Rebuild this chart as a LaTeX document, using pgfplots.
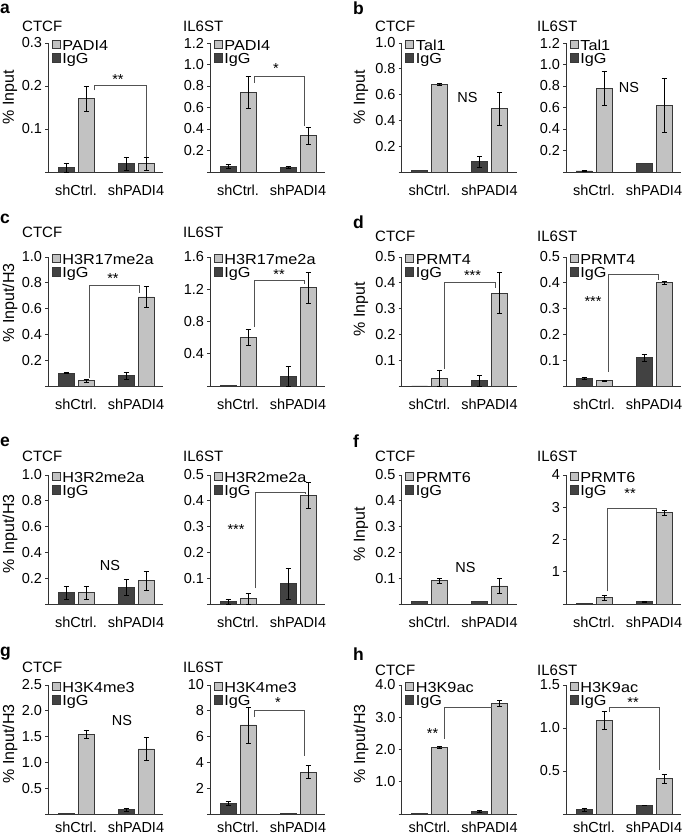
\documentclass[border=0pt]{standalone}
\usepackage{pgfplots}
\pgfplotsset{compat=1.18}
\usepackage{fontspec}
\setmainfont{Liberation Sans}
\newfontfamily\legfont[FakeStretch=1.12]{Liberation Sans}
\definecolor{lightbar}{gray}{0.76}
\definecolor{darkbar}{gray}{0.26}
\definecolor{edgec}{gray}{0.22}
\definecolor{axc}{gray}{0.2}
\definecolor{brc}{gray}{0.32}
\newcommand\fs{\fontsize{14.5}{16}\selectfont}
\newcommand\ft{\fontsize{15}{16}\selectfont}
\newcommand\fleg{\legfont\fontsize{14.5}{15}\selectfont}
\newcommand\fl{\fontsize{16}{17}\selectfont}
\newcommand\fb{\fontsize{17.5}{18}\selectfont\bfseries}
\tikzset{br/.style={brc, line width=1pt}, star/.style={font=\fs, inner sep=0pt, yshift=-3pt}}
\pgfplotsset{
  sq legend/.style={legend image code/.code={\draw[##1,draw=edgec,line width=0.7pt] (0pt,-2pt) rectangle (8pt,6.3pt);}},
  barbase/.style={ybar, bar width=16, bar shift=0pt, draw=edgec, line width=0.8pt, sq legend,
     error bars/.cd, y dir=both, y explicit,
     error bar style={line width=0.6pt, black},
     error mark options={rotate=90, mark size=2.5pt, line width=0.6pt, black}},
  lb/.style={fill=lightbar, barbase},
  db/.style={fill=darkbar, barbase},
  chip/.style={
    scale only axis, width=115pt, height=129pt,
    xmin=0, xmax=115, ymin=0,
    axis lines=left, axis line style={-, line width=0.8pt, axc},
    xtick={28,88}, xticklabels={shCtrl.,shPADI4},
    xtick style={draw=none},
    ytick style={line width=0.8pt, axc},
    tick align=outside, major tick length=3pt,
    tick label style={font=\fs},
    /pgf/number format/assume math mode=true,
    xticklabel style={inner sep=0pt, yshift=-9.5pt},
    yticklabel style={inner sep=0pt, xshift=-2.8pt},
    legend style={draw=none, fill=none, at={(0,1)}, anchor=north west, xshift=3.5pt, yshift=3.5pt,
      inner sep=0pt, font=\fleg, row sep=0pt, column sep=2pt,
      nodes={inner sep=0pt, text height=10.5pt, text depth=3pt}, cells={anchor=west}},
    clip=false,
  },
  lastrow/.style={xticklabel style={yshift=5pt}},
}
\begin{document}
\begin{tikzpicture}
\useasboundingbox (0pt,0pt) rectangle (685pt,834pt);
% ---------------- labels ----------------
\node[anchor=base west, inner sep=0, font=\fb] at (0pt,820pt) {a};
\node[anchor=base west, inner sep=0, font=\fb] at (353pt,819pt) {b};
\node[anchor=base west, inner sep=0, font=\fb] at (0pt,610pt) {c};
\node[anchor=base west, inner sep=0, font=\fb] at (353pt,605pt) {d};
\node[anchor=base west, inner sep=0, font=\fb] at (0pt,387pt) {e};
\node[anchor=base west, inner sep=0, font=\fb] at (353pt,386pt) {f};
\node[anchor=base west, inner sep=0, font=\fb] at (0pt,177pt) {g};
\node[anchor=base west, inner sep=0, font=\fb] at (353pt,173pt) {h};
% titles
\foreach \xx/\yy/\tt in {22/802/CTCF, 183/802/IL6ST, 375/802/CTCF, 537/802/IL6ST,
  22/596/CTCF, 183/596/IL6ST, 375/592/CTCF, 537/592/IL6ST,
  22/372/CTCF, 183/372/IL6ST, 375/372/CTCF, 537/372/IL6ST,
  22/161/CTCF, 183/161/IL6ST, 375/158/CTCF, 537/158/IL6ST}
  \node[anchor=base west, inner sep=0, font=\ft] at (\xx pt,\yy pt) {\tt};
% y labels
\node[rotate=90, inner sep=0, font=\fl] at (10pt,737pt) {\% Input};
\node[rotate=90, inner sep=0, font=\fl] at (361pt,737pt) {\% Input};
\node[rotate=90, inner sep=0, font=\fl] at (10pt,531pt) {\% Input/H3};
\node[rotate=90, inner sep=0, font=\fl] at (361pt,525pt) {\% Input};
\node[rotate=90, inner sep=0, font=\fl] at (10pt,300pt) {\% Input/H3};
\node[rotate=90, inner sep=0, font=\fl] at (361pt,300pt) {\% Input};
\node[rotate=90, inner sep=0, font=\fl] at (10pt,90pt) {\% Input/H3};
\node[rotate=90, inner sep=0, font=\fl] at (361pt,90pt) {\% Input/H3};

% ================= a =================
\begin{axis}[chip, at={(48pt,662pt)}, anchor=south west, ymax=0.3,
  ytick={0,0.1,0.2,0.3}, yticklabels={,0.1,0.2,0.3}]
\addplot[lb] coordinates {(38,0.17) +- (0,0.03) (98,0.02) +- (0,0.015)};
\addplot[db] coordinates {(18,0.01) +- (0,0.01) (78,0.02) +- (0,0.015)};
\legend{PADI4,IgG}
\draw[br] (axis cs:46,0.19) -- (axis cs:46,0.2) -- (axis cs:98,0.2) -- (axis cs:98,0.035);
\node[star] at (axis cs:70,0.222) {**};
\end{axis}
\begin{axis}[chip, at={(210pt,662pt)}, anchor=south west, ymax=1.2,
  ytick={0,0.2,0.4,0.6,0.8,1.0,1.2}, yticklabels={,0.2,0.4,0.6,0.8,1.0,1.2}]
\addplot[lb] coordinates {(38,0.74) +- (0,0.15) (98,0.34) +- (0,0.08)};
\addplot[db] coordinates {(18,0.05) +- (0,0.02) (78,0.04) +- (0,0.01)};
\legend{PADI4,IgG}
\draw[br] (axis cs:44,0.83) -- (axis cs:44,0.89) -- (axis cs:94,0.89) -- (axis cs:94,0.43);
\node[star] at (axis cs:66,0.99) {*};
\end{axis}
% ================= b =================
\begin{axis}[chip, at={(401.5pt,662pt)}, anchor=south west, ymax=1.0,
  ytick={0,0.2,0.4,0.6,0.8,1.0}, yticklabels={,0.2,0.4,0.6,0.8,1.0}]
\addplot[lb] coordinates {(38,0.68) +- (0,0.01) (98,0.49) +- (0,0.13)};
\addplot[db] coordinates {(18,0.01) (78,0.08) +- (0,0.04)};
\legend{Tal1,IgG}
\node[font=\fs] at (axis cs:66,0.58) {NS};
\end{axis}
\begin{axis}[chip, at={(566pt,662pt)}, anchor=south west, ymax=1.2,
  ytick={0,0.2,0.4,0.6,0.8,1.0,1.2}, yticklabels={,0.2,0.4,0.6,0.8,1.0,1.2}]
\addplot[lb] coordinates {(38,0.78) +- (0,0.16) (98,0.62) +- (0,0.25)};
\addplot[db] coordinates {(18,0.01) +- (0,0.005) (78,0.08)};
\legend{Tal1,IgG}
\node[font=\fs] at (axis cs:63,0.79) {NS};
\end{axis}
% ================= c =================
\begin{axis}[chip, at={(48pt,448pt)}, anchor=south west, ymax=1.0,
  ytick={0,0.2,0.4,0.6,0.8,1.0}, yticklabels={,0.2,0.4,0.6,0.8,1.0}]
\addplot[lb] coordinates {(38,0.04) +- (0,0.01) (98,0.69) +- (0,0.08)};
\addplot[db] coordinates {(18,0.10) +- (0,0.005) (78,0.08) +- (0,0.03)};
\legend{H3R17me2a,IgG}
\draw[br] (axis cs:41,0.06) -- (axis cs:41,0.776) -- (axis cs:91,0.776) -- (axis cs:91,0.72);
\node[star] at (axis cs:65,0.86) {**};
\end{axis}
\begin{axis}[chip, at={(210pt,448pt)}, anchor=south west, ymax=1.6,
  ytick={0,0.4,0.8,1.2,1.6}, yticklabels={,0.4,0.8,1.2,1.6}]
\addplot[lb] coordinates {(38,0.60) +- (0,0.10) (98,1.22) +- (0,0.19)};
\addplot[db] coordinates {(18,0.005) (78,0.12) +- (0,0.12)};
\legend{H3R17me2a,IgG}
\draw[br] (axis cs:44,0.73) -- (axis cs:44,1.31) -- (axis cs:94,1.31) -- (axis cs:94,1.26);
\node[star] at (axis cs:69,1.42) {**};
\end{axis}
% ================= d =================
\begin{axis}[chip, at={(401.5pt,448pt)}, anchor=south west, ymax=0.5,
  ytick={0,0.1,0.2,0.3,0.4,0.5}, yticklabels={,0.1,0.2,0.3,0.4,0.5}]
\addplot[lb] coordinates {(38,0.03) +- (0,0.03) (98,0.36) +- (0,0.08)};
\addplot[db] coordinates {(18,0) (78,0.02) +- (0,0.02)};
\legend{PRMT4,IgG}
\draw[br] (axis cs:43,0.065) -- (axis cs:43,0.40) -- (axis cs:94,0.40) -- (axis cs:94,0.378);
\node[star] at (axis cs:71,0.44) {***};
\end{axis}
\begin{axis}[chip, at={(566pt,448pt)}, anchor=south west, ymax=0.5,
  ytick={0,0.1,0.2,0.3,0.4,0.5}, yticklabels={,0.1,0.2,0.3,0.4,0.5}]
\addplot[lb] coordinates {(38,0.02) +- (0,0.003) (98,0.40) +- (0,0.005)};
\addplot[db] coordinates {(18,0.03) +- (0,0.005) (78,0.11) +- (0,0.013)};
\legend{PRMT4,IgG}
\draw[br] (axis cs:42,0.055) -- (axis cs:42,0.433) -- (axis cs:92,0.433) -- (axis cs:92,0.41);
\node[star] at (axis cs:27,0.34) {***};
\end{axis}
% ================= e =================
\begin{axis}[chip, at={(48pt,230pt)}, anchor=south west, ymax=1.0,
  ytick={0,0.2,0.4,0.6,0.8,1.0}, yticklabels={,0.2,0.4,0.6,0.8,1.0}]
\addplot[lb] coordinates {(38,0.09) +- (0,0.05) (98,0.18) +- (0,0.07)};
\addplot[db] coordinates {(18,0.09) +- (0,0.05) (78,0.13) +- (0,0.06)};
\legend{H3R2me2a,IgG}
\node[font=\fs] at (axis cs:62,0.30) {NS};
\end{axis}
\begin{axis}[chip, at={(210pt,230pt)}, anchor=south west, ymax=0.5,
  ytick={0,0.1,0.2,0.3,0.4,0.5}, yticklabels={,0.1,0.2,0.3,0.4,0.5}]
\addplot[lb] coordinates {(38,0.02) +- (0,0.02) (98,0.42) +- (0,0.05)};
\addplot[db] coordinates {(18,0.01) +- (0,0.01) (78,0.08) +- (0,0.06)};
\legend{H3R2me2a,IgG}
\draw[br] (axis cs:45,0.062) -- (axis cs:45,0.433) -- (axis cs:95,0.433) -- (axis cs:95,0.425);
\node[star] at (axis cs:26,0.30) {***};
\end{axis}
% ================= f =================
\begin{axis}[chip, at={(401.5pt,230pt)}, anchor=south west, ymax=0.5,
  ytick={0,0.1,0.2,0.3,0.4,0.5}, yticklabels={,0.1,0.2,0.3,0.4,0.5}]
\addplot[lb] coordinates {(38,0.09) +- (0,0.01) (98,0.07) +- (0,0.03)};
\addplot[db] coordinates {(18,0.01) (78,0.01)};
\legend{PRMT6,IgG}
\node[font=\fs] at (axis cs:64,0.143) {NS};
\end{axis}
\begin{axis}[chip, at={(566pt,230pt)}, anchor=south west, ymax=4,
  ytick={0,1,2,3,4}, yticklabels={,1,2,3,4}]
\addplot[lb] coordinates {(38,0.2) +- (0,0.08) (98,2.83) +- (0,0.08)};
\addplot[db] coordinates {(18,0.03) (78,0.07) +- (0,0.02)};
\legend{PRMT6,IgG}
\draw[br] (axis cs:41,0.39) -- (axis cs:41,2.97) -- (axis cs:90,2.97) -- (axis cs:90,2.85);
\node[star] at (axis cs:64,3.53) {**};
\end{axis}
% ================= g =================
\begin{axis}[chip, lastrow, at={(48pt,20pt)}, anchor=south west, ymax=2.5,
  ytick={0,0.5,1.0,1.5,2.0,2.5}, yticklabels={,0.5,1.0,1.5,2.0,2.5}]
\addplot[lb] coordinates {(38,1.55) +- (0,0.08) (98,1.26) +- (0,0.22)};
\addplot[db] coordinates {(18,0.005) (78,0.08) +- (0,0.03)};
\legend{H3K4me3,IgG}
\node[font=\fs] at (axis cs:74,1.82) {NS};
\end{axis}
\begin{axis}[chip, lastrow, at={(210pt,20pt)}, anchor=south west, ymax=10,
  ytick={0,2,4,6,8,10}, yticklabels={,2,4,6,8,10}]
\addplot[lb] coordinates {(38,6.9) +- (0,1.4) (98,3.25) +- (0,0.5)};
\addplot[db] coordinates {(18,0.8) +- (0,0.15) (78,0.05)};
\legend{H3K4me3,IgG}
\draw[br] (axis cs:44,7.55) -- (axis cs:44,8.02) -- (axis cs:94,8.02) -- (axis cs:94,4.46);
\node[star] at (axis cs:68,8.84) {*};
\end{axis}
% ================= h =================
\begin{axis}[chip, lastrow, at={(401.5pt,20pt)}, anchor=south west, ymax=4.0,
  ytick={0,1,2,3,4}, yticklabels={,1.0,2.0,3.0,4.0}]
\addplot[lb] coordinates {(38,2.07) +- (0,0.04) (98,3.43) +- (0,0.1)};
\addplot[db] coordinates {(18,0.01) (78,0.09) +- (0,0.04)};
\legend{H3K9ac,IgG}
\draw[br] (axis cs:43,2.32) -- (axis cs:43,3.3) -- (axis cs:90,3.3);
\node[star] at (axis cs:31,2.60) {**};
\end{axis}
\begin{axis}[chip, lastrow, at={(566pt,20pt)}, anchor=south west, ymax=1.5,
  ytick={0,0.5,1.0,1.5}, yticklabels={,0.5,1.0,1.5}]
\addplot[lb] coordinates {(38,1.09) +- (0,0.1) (98,0.41) +- (0,0.05)};
\addplot[db] coordinates {(18,0.05) +- (0,0.02) (78,0.10) +- (0,0.003)};
\legend{H3K9ac,IgG}
\draw[br] (axis cs:43,1.19) -- (axis cs:43,1.24) -- (axis cs:93,1.24) -- (axis cs:93,0.51);
\node[star] at (axis cs:67,1.33) {**};
\end{axis}
\end{tikzpicture}
\end{document}
